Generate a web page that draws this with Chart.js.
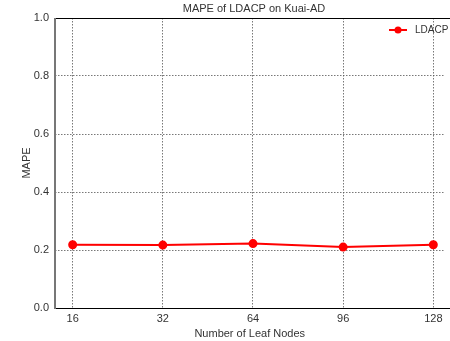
<!DOCTYPE html>
<html>
<head>
<meta charset="utf-8">
<script src="https://cdn.jsdelivr.net/npm/chart.js@4/dist/chart.umd.min.js"></script>
<style>
  html, body { margin: 0; padding: 0; background: #fff; }
  #wrap { width: 450px; height: 341px; }
</style>
</head>
<body>
<div id="wrap"><canvas id="mapeChart" width="450" height="341"></canvas></div>
<script>
// leaf node counts on the x axis (evenly spaced)
const leafNodes = ["16", "32", "64", "96", "128"];
const mapeValues = [0.218, 0.217, 0.222, 0.210, 0.218];
const yTicks = [0.0, 0.2, 0.4, 0.6, 0.8, 1.0];
const seriesName = "LDACP";
const chartTitle = "MAPE of LDACP on Kuai-AD";

const FONT = "'Liberation Sans', Arial, sans-serif";

// spines (plot runs off the right edge), title and a line+marker legend
const framePlugin = {
    id: "frame",
    afterDraw(chart) {
        const { ctx, chartArea: a, width } = chart;
        ctx.save();
        ctx.strokeStyle = "#000";
        ctx.lineWidth = 1;
        ctx.beginPath();
        ctx.moveTo(a.left, a.top + 0.5);
        ctx.lineTo(width, a.top + 0.5);
        ctx.moveTo(a.left, a.bottom + 0.5);
        ctx.lineTo(width, a.bottom + 0.5);
        ctx.stroke();
        ctx.strokeStyle = "#777";
        ctx.lineWidth = 2;
        ctx.beginPath();
        ctx.moveTo(a.left, a.top);
        ctx.lineTo(a.left, a.bottom + 1);
        ctx.stroke();

        // title
        ctx.fillStyle = "#333";
        ctx.font = "11px " + FONT;
        ctx.textAlign = "center";
        ctx.textBaseline = "middle";
        ctx.fillText(chartTitle, 254, 9);

        // legend
        const ly = a.top + 12;
        const lx = 389;
        ctx.strokeStyle = "#ff0000";
        ctx.lineWidth = 2;
        ctx.beginPath();
        ctx.moveTo(lx, ly);
        ctx.lineTo(lx + 18, ly);
        ctx.stroke();
        ctx.fillStyle = "#ff0000";
        ctx.beginPath();
        ctx.arc(lx + 9, ly, 3.5, 0, Math.PI * 2);
        ctx.fill();
        ctx.fillStyle = "#333";
        ctx.font = "10px " + FONT;
        ctx.textAlign = "left";
        ctx.fillText(seriesName, lx + 26, ly);
        ctx.restore();
    }
};

new Chart(document.getElementById("mapeChart"), {
    type: "line",
    data: {
        datasets: [{
            label: seriesName,
            data: mapeValues.map((v, i) => ({ x: i, y: v })),
            borderColor: "#ff0000",
            backgroundColor: "#ff0000",
            borderWidth: 2,
            pointRadius: 3.5,
            pointHoverRadius: 3.5,
            tension: 0,
        }]
    },
    options: {
        responsive: false,
        animation: false,
        layout: { padding: { left: 0, right: 0, top: 18, bottom: 0 } },
        plugins: {
            legend: { display: false },
            tooltip: { enabled: false },
            title: { display: false }
        },
        scales: {
            x: {
                type: "linear",
                min: -0.196,
                max: 4.124,
                afterBuildTicks(axis) {
                    axis.ticks = leafNodes.map((_, i) => ({ value: i }));
                },
                afterFit(axis) {
                    axis.height = 33;
                    axis.paddingLeft = 0;
                    axis.paddingRight = 0;
                },
                ticks: {
                    callback: (v) => leafNodes[v],
                    color: "#333",
                    font: { family: FONT, size: 11 },
                    padding: 4,
                    maxRotation: 0
                },
                grid: {
                    color: "#555",
                    lineWidth: 0.8,
                    drawTicks: false,
                    tickLength: 0
                },
                border: { display: false, dash: [1.5, 1.5] },
                title: {
                    display: true,
                    text: "Number of Leaf Nodes",
                    color: "#333",
                    font: { family: FONT, size: 11 },
                    padding: { top: 1, bottom: 0 }
                }
            },
            y: {
                min: 0,
                max: 1,
                afterBuildTicks(axis) {
                    axis.ticks = yTicks.map(v => ({ value: v }));
                },
                afterFit(axis) {
                    axis.width = 55;
                    axis.paddingTop = 0;
                    axis.paddingBottom = 0;
                },
                ticks: {
                    callback: (v) => v.toFixed(1),
                    color: "#333",
                    font: { family: FONT, size: 11 },
                    padding: 6
                },
                grid: {
                    color: "#555",
                    lineWidth: 0.8,
                    drawTicks: false,
                    tickLength: 0
                },
                border: { display: false, dash: [1.5, 1.5] },
                title: {
                    display: true,
                    text: "MAPE",
                    color: "#333",
                    font: { family: FONT, size: 11 },
                    padding: { top: 20, bottom: 0 }
                }
            }
        }
    },
    plugins: [framePlugin]
});
</script>
</body>
</html>
